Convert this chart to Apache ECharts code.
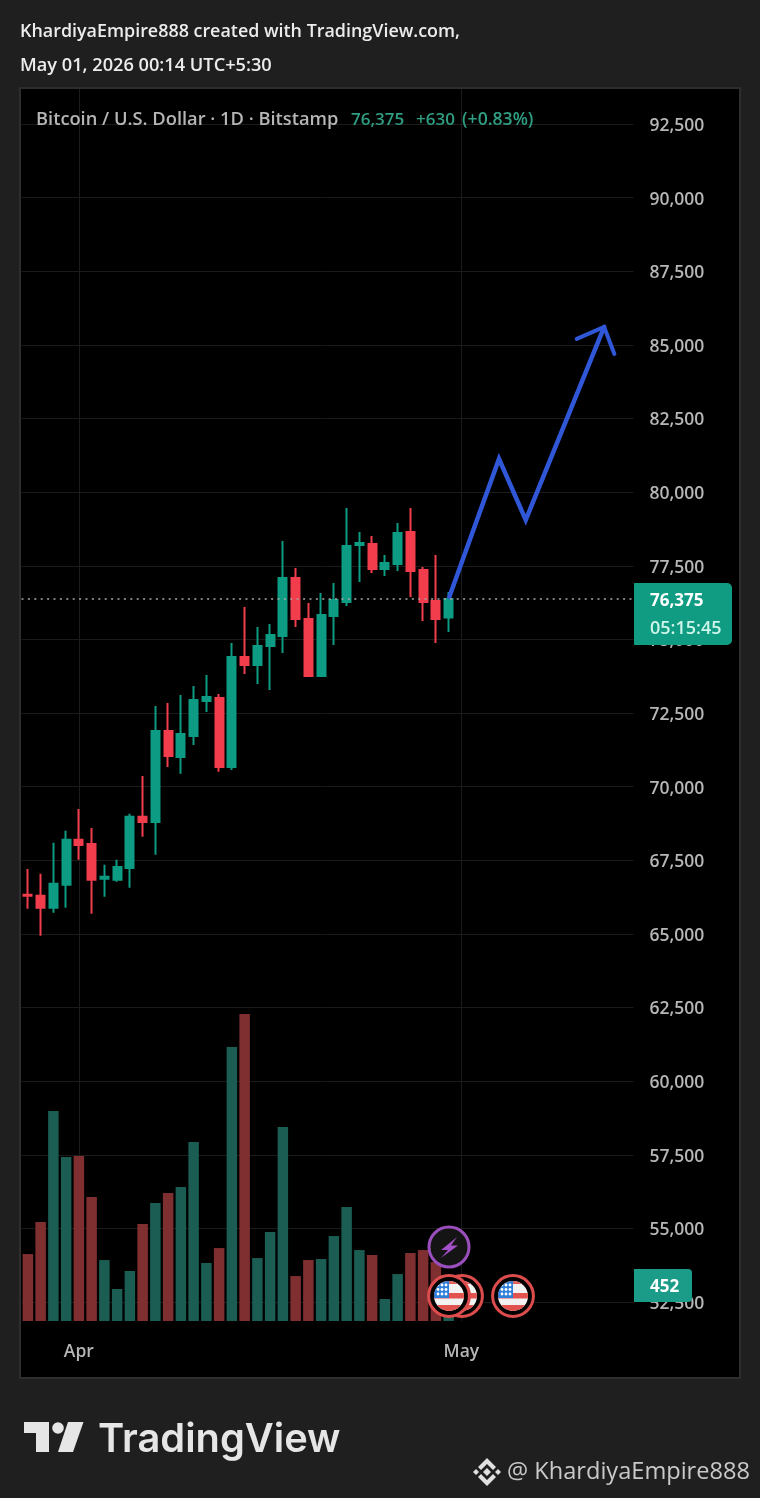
<!DOCTYPE html>
<html><head><meta charset="utf-8">
<style>html,body{margin:0;padding:0;background:#1f1f1f}#c{width:760px;height:1498px}</style>
<script src="https://cdn.jsdelivr.net/npm/echarts@6/dist/echarts.min.js"></script>
</head><body><div id="c"></div>
<script>
const categories = ['Mar 28','Mar 29','Mar 30','Mar 31',
 'Apr 1','Apr 2','Apr 3','Apr 4','Apr 5','Apr 6','Apr 7','Apr 8','Apr 9','Apr 10','Apr 11','Apr 12','Apr 13','Apr 14','Apr 15',
 'Apr 16','Apr 17','Apr 18','Apr 19','Apr 20','Apr 21','Apr 22','Apr 23','Apr 24','Apr 25','Apr 26','Apr 27','Apr 28','Apr 29','Apr 30',
 'May 1','May 2','May 3','May 4','May 5','May 6','May 7','May 8','May 9','May 10','May 11','May 12','May 13','May 14'];
const opens  = [66330,66291,65883,66664,68192,68056,66868,66834,67241,68973,68803,71893,71010,71723,72911,73013,70670,74405,74133,74778,75118,77087,75695,73760,75797,76272,78207,78241,77392,77562,78649,77358,76306,75745];
const closes = [66291,65883,66698,68192,68022,66834,66936,67275,68973,68803,71893,71044,71791,72945,73047,70670,74405,74133,74778,75152,77087,75695,73760,75831,76340,78173,78275,77392,77596,78615,77325,76272,75695,76375];
const lows   = [65849,64933,65714,65883,67513,65680,66257,66766,66562,68294,67683,70670,70433,71417,72538,70501,70568,73828,73488,73284,74541,75423,73760,73726,74812,76136,76951,77257,77155,77325,76442,75627,74880,75254];
const highs  = [67207,67038,68090,68498,69244,68599,67343,67513,69075,70365,72741,72843,73115,73420,73794,73149,74880,76102,75423,75525,78343,77426,76238,76578,76917,79463,78649,78513,77868,78954,79463,77460,77868,76612];
const volumes = [837,1237,2625,2050,2062,1550,762,400,625,1212,1475,1600,1675,2237,725,912,3425,3837,787,1112,2425,562,762,775,1062,1425,887,825,275,587,850,887,737,452];
const priceTicks = {min:52500,max:92500,step:2500};
const lastPrice = 76375;
const arrowPathX = [33.05,36.95,39.05,45.2];
const arrowPathY = [76442,81127,79056,85608];
const arrowHeadX = [43.05,45.2,46];
const arrowHeadY = [85201,85608,84692];

const UP='#0d9c83', DOWN='#f23d4d', UPV='#1b5c53', DOWNV='#7f2f30', GRIDC='#1b1b1b', LABEL='#b6b6b6';
const FONT='"Open Sans"';

function flagSvg(){
 return 'data:image/svg+xml;charset=utf-8,'+encodeURIComponent(
 "<svg xmlns='http://www.w3.org/2000/svg' width='132' height='132' viewBox='0 0 44 44'>"+
 "<defs><clipPath id='k'><circle cx='22' cy='22' r='15'/></clipPath></defs>"+
 "<circle cx='22' cy='22' r='20.4' fill='#000' stroke='#dd4c4c' stroke-width='3'/>"+
 "<g clip-path='url(#k)'><rect width='44' height='44' fill='#f2f2f2'/>"+
 "<rect y='6' width='44' height='4' fill='#e2625f'/><rect y='19' width='44' height='5.5' fill='#e2524f'/><rect y='31' width='44' height='8' fill='#e2524f'/>"+
 "<rect x='6' y='6' width='16' height='18' fill='#2f7fd8'/>"+
 "<g fill='#fff'><circle cx='11' cy='11' r='1.4'/><circle cx='15' cy='11' r='1.4'/><circle cx='19' cy='11' r='1.4'/><circle cx='11' cy='15.5' r='1.4'/><circle cx='15' cy='15.5' r='1.4'/><circle cx='19' cy='15.5' r='1.4'/><circle cx='11' cy='20' r='1.4'/><circle cx='15' cy='20' r='1.4'/><circle cx='19' cy='20' r='1.4'/></g>"+
 "</g></svg>");
}
function boltSvg(){
 return 'data:image/svg+xml;charset=utf-8,'+encodeURIComponent(
 "<svg xmlns='http://www.w3.org/2000/svg' width='132' height='132' viewBox='0 0 44 44'>"+
 "<circle cx='22' cy='22' r='20' fill='#141414' stroke='#9a4fbd' stroke-width='3'/>"+
 "<path d='M30 12 L14 25 L21 25 L14 33 L31 20.5 L24 20.5 Z' fill='#a24fc8'/></svg>");
}
const t=(text,x,y,font,fill,extra)=>({type:'text',x,y,z:50,silent:true,style:Object.assign({text,font,fill,textVerticalAlign:'middle',textAlign:'left'},extra||{})});
const poly=(pts,fill,z)=>({type:'polygon',z:z||50,silent:true,shape:{points:pts},style:{fill}});

const chart=echarts.init(document.getElementById('c'),null,{renderer:'canvas'});
chart.setOption({
 animation:false,
 backgroundColor:'#1f1f1f',
 grid:[
  {left:21.5,width:612,top:124,height:1178},
  {left:21.5,width:612,top:89,height:1232}
 ],
 xAxis:[
  {type:'category',gridIndex:0,data:categories,show:false},
  {type:'value',gridIndex:0,min:-0.5,max:47.5,show:false},
  {type:'category',gridIndex:1,data:categories,position:'bottom',
   axisLine:{show:false},axisTick:{show:false,alignWithLabel:true},
   axisLabel:{color:LABEL,fontFamily:FONT,fontWeight:600,fontSize:17.5,margin:22,
     interval:(i,v)=>v==='Apr 1'||v==='May 1',formatter:v=>v.split(' ')[0]},
   splitLine:{show:true,alignWithLabel:true,interval:(i,v)=>v==='Apr 1'||v==='May 1',lineStyle:{color:GRIDC,width:1}}}
 ],
 yAxis:[
  {type:'value',gridIndex:0,position:'right',min:priceTicks.min,max:priceTicks.max,interval:priceTicks.step,
   axisLine:{show:false},axisTick:{show:false},
   axisLabel:{margin:16,
     formatter:v=>'{p|'+v.toLocaleString('en-US')+'}',
     rich:{p:{color:LABEL,fontFamily:FONT,fontWeight:600,fontSize:17.5,padding:[4,0,0,0]}}},
   splitLine:{show:true,lineStyle:{color:GRIDC,width:1}}},
  {type:'value',gridIndex:1,min:0,max:15400,show:false,splitLine:{show:false}}
 ],
 series:[
  {type:'bar',name:'Volume',xAxisIndex:2,yAxisIndex:1,z:2,barWidth:10.5,
   data:volumes.map((v,i)=>({value:v,itemStyle:{color:closes[i]>=opens[i]?UPV:DOWNV}}))},
  {type:'candlestick',name:'BTCUSD',xAxisIndex:0,yAxisIndex:0,z:3,barWidth:8.5,
   itemStyle:{color:UP,color0:DOWN,borderColor:UP,borderColor0:DOWN,borderWidth:2},
   data:opens.map((o,i)=>[o,closes[i],lows[i],highs[i]]),
   markLine:{silent:true,symbol:'none',label:{show:false},animation:false,
     lineStyle:{color:'#a8a8a8',type:[2,4.4],width:1.6},data:[{yAxis:lastPrice}]}},
  {type:'line',name:'Projection',xAxisIndex:1,yAxisIndex:0,z:4,showSymbol:false,symbol:'none',clip:false,
   lineStyle:{color:'#2f57d8',width:4.5,join:'miter',cap:'round'},
   data:arrowPathX.map((x,i)=>[x,arrowPathY[i]])},
  {type:'line',name:'Projection head',xAxisIndex:1,yAxisIndex:0,z:4,showSymbol:false,symbol:'none',clip:false,
   lineStyle:{color:'#2f57d8',width:4,join:'miter',cap:'round'},
   data:arrowHeadX.map((x,i)=>[x,arrowHeadY[i]])}
 ],
 graphic:[
  {type:'rect',z:-10,silent:true,shape:{x:20,y:88,width:720,height:1290},style:{fill:'#000',stroke:'#2e2e2e',lineWidth:2}},
  t('KhardiyaEmpire888 created with TradingView.com,',20,32,'600 17.9px '+FONT,'#ececec'),
  t('May 01, 2026 00:14 UTC+5:30',20,66,'600 18.2px '+FONT,'#ececec'),
  t('Bitcoin / U.S. Dollar · 1D · Bitstamp',36,120,'600 18.3px '+FONT,LABEL),
  t('76,375',351,120,'600 17px '+FONT,'#2f9e83'),
  t('+630',416,120,'600 17px '+FONT,'#2f9e83'),
  t('(+0.83%)',462,120,'600 17.6px '+FONT,'#2f9e83'),
  {type:'rect',z:40,silent:true,shape:{x:634,y:583,width:98,height:62,r:[0,5,5,0]},style:{fill:'#109c83'}},
  t('76,375',650,601,'700 17px '+FONT,'#ffffff'),
  t('05:15:45',650,629,'600 18px '+FONT,'#cdf5ea'),
  {type:'rect',z:40,silent:true,shape:{x:634,y:1269,width:58,height:33,r:[0,4,4,0]},style:{fill:'#1a9c88'}},
  t('452',650,1287,'700 17px '+FONT,'#ffffff'),
  {type:'image',z:41,silent:true,style:{image:flagSvg(),x:440,y:1274,width:44,height:44}},
  {type:'image',z:42,silent:true,style:{image:flagSvg(),x:427,y:1274,width:44,height:44}},
  {type:'image',z:42,silent:true,style:{image:flagSvg(),x:491,y:1274,width:44,height:44}},
  {type:'image',z:42,silent:true,style:{image:boltSvg(),x:427,y:1225,width:44,height:44}},
  poly([[24,1422],[49,1422],[49,1452],[36,1452],[36,1433],[24,1433]],'#e6e6e6'),
  {type:'circle',z:50,silent:true,shape:{cx:58,cy:1428,r:5.8},style:{fill:'#e6e6e6'}},
  poly([[68,1422],[83.5,1422],[73,1452],[58,1452]],'#e6e6e6'),
  t('TradingView',98,1440,'600 39.8px Inter','#e6e6e6'),
  poly([[487,1458],[496,1467],[493,1470],[487,1464],[481,1470],[478,1467]],'#e0e0e0'),
  poly([[487,1468],[491,1472],[487,1476],[483,1472]],'#e0e0e0'),
  poly([[476,1469],[479,1472],[476,1475],[473,1472]],'#e0e0e0'),
  poly([[498,1469],[501,1472],[498,1475],[495,1472]],'#e0e0e0'),
  poly([[487,1486],[496,1477],[493,1474],[487,1480],[481,1474],[478,1477]],'#e0e0e0'),
  t('@ KhardiyaEmpire888',507,1472,'400 23.6px "Open Sans"','#c9c9c9')
 ]
});
</script></body></html>
